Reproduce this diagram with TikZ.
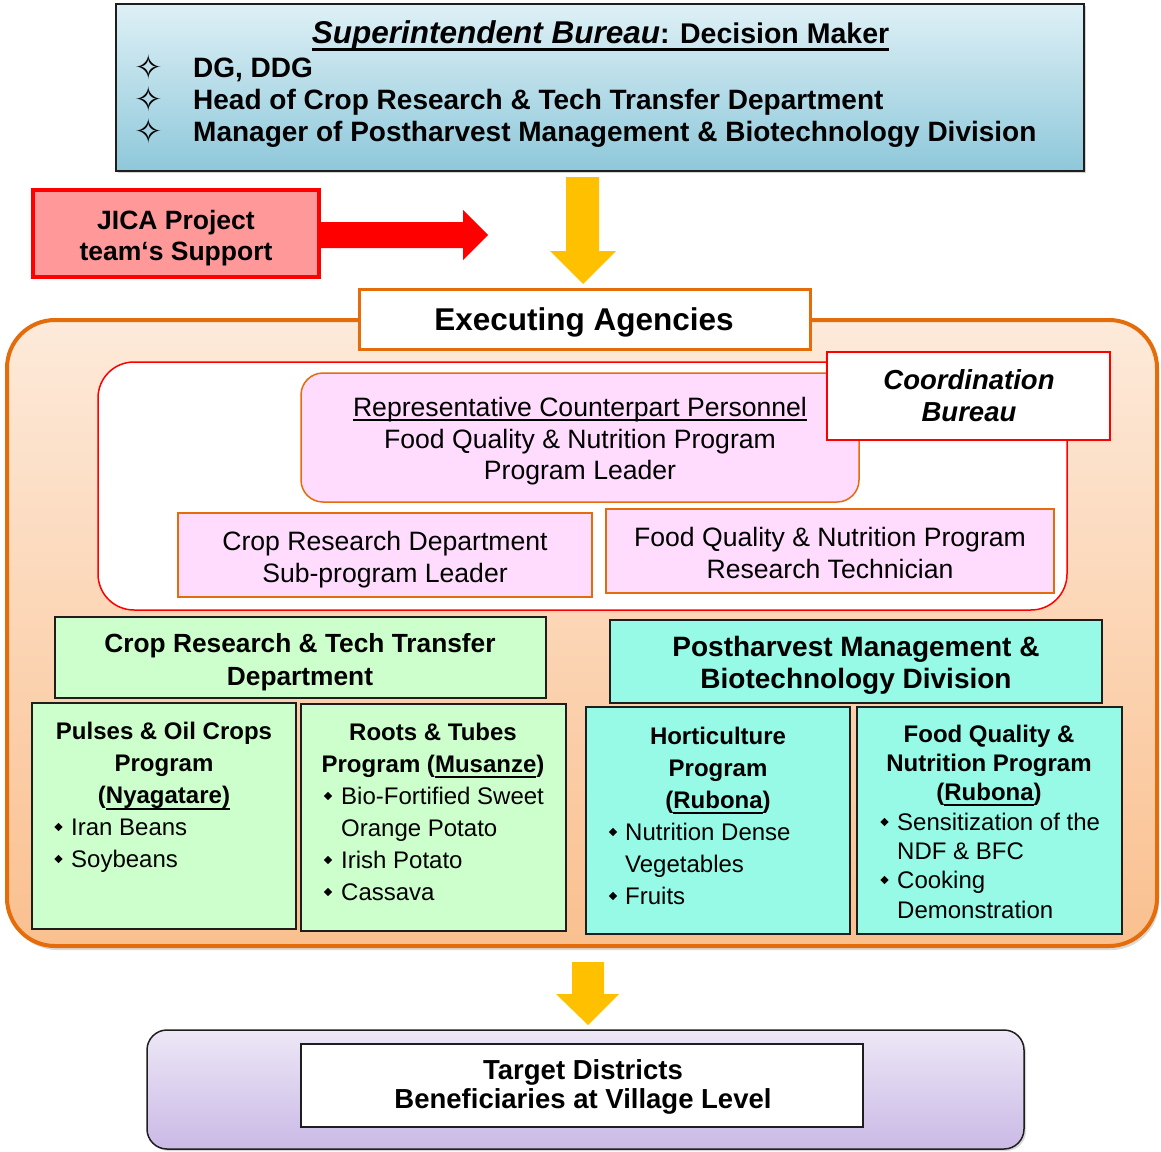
\documentclass[tikz,border=0pt]{standalone}
\usepackage{fontspec}
\setmainfont{Liberation Sans}
\newfontfamily\dvfont{DejaVu Sans}
\usetikzlibrary{shapes.geometric,shadows}
\newcommand\fs[1]{\fontsize{#1}{#1}\selectfont}
\newsavebox\ulbox
\newcommand\ulx[3]{\sbox\ulbox{#3}\rlap{\rule[#1]{\wd\ulbox}{#2}}\usebox\ulbox}
\definecolor{orgB}{HTML}{E46C0A}
\definecolor{yel}{HTML}{FFC000}
\definecolor{pinkF}{HTML}{FFDCFE}
\definecolor{greenF}{HTML}{CCFFCC}
\definecolor{cyanF}{RGB}{150,250,230}
\definecolor{jicaF}{HTML}{FF9999}
\definecolor{topT}{RGB}{222,240,246}
\definecolor{topB}{RGB}{142,200,218}
\definecolor{orT}{RGB}{253,234,218}
\definecolor{orB}{RGB}{250,192,143}
\definecolor{puT}{RGB}{237,231,246}
\definecolor{puB}{RGB}{202,185,230}
\definecolor{edge}{RGB}{30,30,30}
\tikzset{
  box/.style={inner sep=0, outer sep=0, anchor=north west},
  tc/.style={inner sep=0, anchor=base},
  tl/.style={inner sep=0, anchor=base west},
  bul/.style={diamond, fill=black, inner sep=0, minimum width=8.5, minimum height=8.5},
  star/.style={inner sep=0, anchor=center, font=\dvfont\fs{34}},
  pinkbox/.style={box, fill=pinkF, draw=orgB, line width=1.5},
  greenbox/.style={box, fill=greenF, draw=edge, line width=1.5},
  cyanbox/.style={box, fill=cyanF, draw=edge, line width=1.8},
  toptext/.style={tl, font=\fs{28}\bfseries},
  small/.style={font=\fs{24}},
  smallb/.style={font=\fs{24}\bfseries},
  pinktext/.style={tc, font=\fs{26.6}},
}
\begin{document}
\begin{tikzpicture}[x=1pt,y=-1pt]
\path[use as bounding box] (0,0) rectangle (1161,1151);

% ---------- top box ----------
\node[box, top color=topT, bottom color=topB, draw=edge, line width=1.5,
      minimum width=968, minimum height=167,
      drop shadow={shadow xshift=2pt, shadow yshift=-2pt, opacity=0.35}] (top) at (116,4) {};
\node[tc] (title) at (600.5,43) {\ulx{-8pt}{3.3pt}{\fs{31.5}\bfseries\itshape Superintendent Bureau\fs{28.5}\upshape: Decision Maker}};
\node[star] (s1) at (149,67) {✧};
\node[star] (s2) at (149,99) {✧};
\node[star] (s3) at (149,131) {✧};
\node[toptext] (l1) at (193,77) {DG, DDG};
\node[toptext] (l2) at (193,109) {Head of Crop Research \& Tech Transfer Department};
\node[toptext] (l3) at (193,141) {Manager of Postharvest Management \& Biotechnology Division};

% ---------- yellow arrow 1 ----------
\fill[yel] (566,177) -- (599,177) -- (599,251) -- (616,251) -- (583,284) -- (550,251) -- (566,251) -- cycle;

% ---------- JICA ----------
\node[box, fill=jicaF, draw=red, line width=4, minimum width=286, minimum height=87] (jica) at (33,190) {};
\node[tc, font=\fs{26.5}\bfseries] (j1) at (176,229) {JICA Project};
\node[tc, font=\fs{26.5}\bfseries] (j2) at (176,260) {team‘s Support};
\fill[red] (321,222) -- (463,222) -- (463,210) -- (488,235) -- (463,260) -- (463,248) -- (321,248) -- cycle;

% ---------- orange executing area ----------
\node[box, top color=orT, bottom color=orB, draw=orgB, line width=4, rounded corners=48,
      minimum width=1150, minimum height=626,
      drop shadow={shadow xshift=2pt, shadow yshift=-4pt, opacity=0.3}] (orange) at (7,320) {};
\node[box, fill=white, draw=orgB, line width=3, minimum width=451, minimum height=60] (exec) at (359,289) {};
\node[tc, font=\fs{31.5}\bfseries] (exect) at (584,330) {Executing Agencies};

% ---------- coordination area ----------
\node[box, fill=white, draw=red, line width=1.5, rounded corners=36, minimum width=969, minimum height=248] (redbox) at (98,362) {};
\node[pinkbox, rounded corners=22, minimum width=558, minimum height=129] (rep) at (301,373) {};
\node[pinktext] (r1) at (580,416) {\ulx{-4.5pt}{1.5pt}{Representative Counterpart Personnel}};
\node[pinktext] (r2) at (580,448) {Food Quality \& Nutrition Program};
\node[pinktext] (r3) at (580,479) {Program Leader};
\node[box, fill=white, draw=red, line width=2, minimum width=283, minimum height=88] (coord) at (827,352) {};
\node[tc, font=\fs{27.5}\bfseries\itshape] (c1) at (969,389) {Coordination};
\node[tc, font=\fs{27.5}\bfseries\itshape] (c2) at (969,421) {Bureau};
\node[pinkbox, minimum width=414, minimum height=84] (crd) at (178,513) {};
\node[pinktext] (crd1) at (385,550) {Crop Research Department};
\node[pinktext] (crd2) at (385,582) {Sub-program Leader};
\node[pinkbox, minimum width=448, minimum height=84] (fqr) at (606,509) {};
\node[pinktext] (fqr1) at (830,546) {Food Quality \& Nutrition Program};
\node[pinktext] (fqr2) at (830,578) {Research Technician};

% ---------- departments ----------
\node[greenbox, minimum width=491, minimum height=81] (gh) at (55,617) {};
\node[tc, font=\fs{26.3}\bfseries] (gh1) at (300,652) {Crop Research \& Tech Transfer};
\node[tc, font=\fs{26.3}\bfseries] (gh2) at (300,685) {Department};
\node[cyanbox, minimum width=492, minimum height=83] (ch) at (610,620) {};
\node[tc, font=\fs{28}\bfseries] (ch1) at (856,656) {Postharvest Management \&};
\node[tc, font=\fs{28}\bfseries] (ch2) at (856,688) {Biotechnology Division};

% Pulses
\node[greenbox, minimum width=264, minimum height=226] (pulses) at (32,703) {};
\node[tc, smallb] (p1) at (164,739) {Pulses \& Oil Crops};
\node[tc, smallb] (p2) at (164,771) {Program};
\node[tc, smallb] (p3) at (164,803) {(\ulx{-6.5pt}{2pt}{Nyagatare)}};
\node[bul] (pb1) at (58.5,827) {};
\node[tl, small] (p4) at (71,835) {Iran Beans};
\node[bul] (pb2) at (58.5,859) {};
\node[tl, small] (p5) at (71,867) {Soybeans};

% Roots
\node[greenbox, minimum width=265, minimum height=227] (roots) at (301,704) {};
\node[tc, smallb] (o1) at (433,740) {Roots \& Tubes};
\node[tc, smallb] (o2) at (433,772) {Program (\ulx{-5.5pt}{2pt}{Musanze})};
\node[bul] (ob1) at (328,796) {};
\node[tl, small] (o3) at (341,804) {Bio-Fortified Sweet};
\node[tl, small] (o4) at (341,836) {Orange Potato};
\node[bul] (ob2) at (328,860) {};
\node[tl, small] (o5) at (341,868) {Irish Potato};
\node[bul] (ob3) at (328,892) {};
\node[tl, small] (o6) at (341,900) {Cassava};

% Horticulture
\node[cyanbox, minimum width=264, minimum height=227] (hort) at (586,707) {};
\node[tc, smallb] (h1) at (718,744) {Horticulture};
\node[tc, smallb] (h2) at (718,776) {Program};
\node[tc, smallb] (h3) at (718,808) {(\ulx{-5.5pt}{2pt}{Rubona})};
\node[bul] (hb1) at (613,832) {};
\node[tl, small] (h4) at (625,840) {Nutrition Dense};
\node[tl, small] (h5) at (625,872) {Vegetables};
\node[bul] (hb2) at (613,896) {};
\node[tl, small] (h6) at (625,904) {Fruits};

% Food Quality
\node[cyanbox, minimum width=265, minimum height=227] (fqn) at (857,707) {};
\node[tc, smallb] (f1) at (989,742) {Food Quality \&};
\node[tc, smallb] (f2) at (989,771) {Nutrition Program};
\node[tc, smallb] (f3) at (989,800) {(\ulx{-5.5pt}{2pt}{Rubona})};
\node[bul] (fb1) at (884.5,822) {};
\node[tl, small] (f4) at (897,830) {Sensitization of the};
\node[tl, small] (f5) at (897,859) {NDF \& BFC};
\node[bul] (fb2) at (884.5,880) {};
\node[tl, small] (f6) at (897,888) {Cooking};
\node[tl, small] (f7) at (897,918) {Demonstration};

% ---------- yellow arrow 2 ----------
\fill[yel] (572,962) -- (604,962) -- (604,994) -- (619,994) -- (588,1025) -- (556,994) -- (572,994) -- cycle;

% ---------- target ----------
\node[box, top color=puT, bottom color=puB, draw=edge, line width=1.5, rounded corners=20,
      minimum width=877, minimum height=119,
      drop shadow={shadow xshift=2pt, shadow yshift=-2pt, opacity=0.3}] (purple) at (147,1030) {};
\node[box, fill=white, draw=edge, line width=1.5, minimum width=562, minimum height=83] (target) at (301,1044) {};
\node[tc, font=\fs{27.5}\bfseries] (t1) at (583,1079) {Target Districts};
\node[tc, font=\fs{27.5}\bfseries] (t2) at (583,1108) {Beneficiaries at Village Level};
\end{tikzpicture}
\end{document}
